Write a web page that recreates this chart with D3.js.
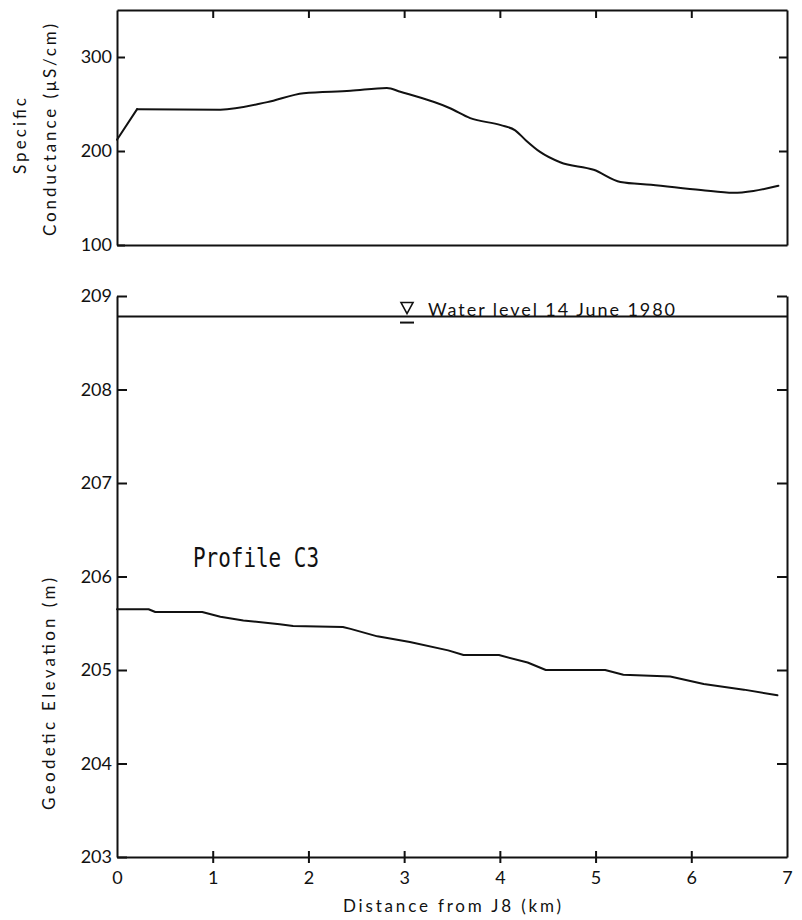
<!DOCTYPE html>
<html>
<head>
<meta charset="utf-8">
<script src="https://cdn.jsdelivr.net/npm/d3@7"></script>
<style>
  html, body { margin: 0; padding: 0; background: #fff; }
  svg { display: block; }
  .axis text { font-family: Lato, "Open Sans", sans-serif; font-size: 18px; fill: #111; }
  .axis path, .axis line { stroke: #111; stroke-width: 2; }
  .title { font-family: Lato, "Open Sans", sans-serif; font-size: 17px; fill: #111; }
</style>
</head>
<body>
<script>
// Distance along the profile (km) and specific conductance (µS/cm)
const condKm  = [0, 0.21, 1.08, 1.57, 1.95, 2.44, 2.82, 2.96, 3.48, 3.69, 4.01, 4.16, 4.27, 4.42, 4.63, 4.98, 5.26, 5.58, 6.10, 6.44, 6.65, 6.91];
const condVal = [212, 244.5, 244, 252, 261.5, 264, 267, 263, 245.5, 235, 227.5, 222, 211.5, 199, 188, 180, 167, 164, 158.5, 155.5, 157.5, 163];

// Distance along the profile (km) and geodetic elevation of the bed (m)
const elevKm  = [0, 0.33, 0.40, 0.89, 1.08, 1.32, 1.70, 1.84, 2.36, 2.44, 2.72, 3.06, 3.46, 3.62, 3.99, 4.29, 4.48, 5.10, 5.29, 5.78, 6.13, 6.55, 6.90];
const elevVal = [205.65, 205.65, 205.62, 205.62, 205.57, 205.53, 205.49, 205.47, 205.46, 205.44, 205.36, 205.30, 205.21, 205.16, 205.16, 205.08, 205.00, 205.00, 204.95, 204.93, 204.85, 204.79, 204.73];

// Water surface on 14 June 1980 (m)
const waterLevel = 208.78;

// Tick values
const distTicks = [0, 1, 2, 3, 4, 5, 6, 7];
const condTicks = [100, 200, 300];
const elevTicks = [203, 204, 205, 206, 207, 208, 209];

const W = 802, H = 920;
const svg = d3.select("body").append("svg").attr("width", W).attr("height", H);

const x = d3.scaleLinear().domain([0, 7]).range([117, 787]);
const yC = d3.scaleLinear().domain([100, 350]).range([245, 10]);
const yE = d3.scaleLinear().domain([203, 209]).range([857, 296]);
const intFmt = d3.format("d");

const lineStyle = g => g.attr("fill", "none").attr("stroke", "#111").attr("stroke-width", 2)
  .attr("stroke-linejoin", "round").attr("stroke-linecap", "round");

// ---------- upper panel: specific conductance ----------
const upper = svg.append("g");

upper.append("g").attr("class", "axis").attr("transform", `translate(0,${yC.range()[1]})`)
  .call(d3.axisTop(x).tickValues(distTicks.slice(1, -1)).tickSize(-8).tickSizeOuter(0).tickFormat(""));
upper.append("g").attr("class", "axis").attr("transform", `translate(0,${yC.range()[0]})`)
  .call(d3.axisBottom(x).tickValues([]).tickSizeOuter(0));
upper.append("g").attr("class", "axis").attr("transform", `translate(${x.range()[0]},0)`)
  .call(d3.axisLeft(yC).tickValues(condTicks).tickSize(-8).tickSizeOuter(0).tickPadding(5).tickFormat(intFmt));
upper.append("g").attr("class", "axis").attr("transform", `translate(${x.range()[1]},0)`)
  .call(d3.axisRight(yC).tickValues(condTicks.slice(1)).tickSize(-8).tickSizeOuter(0).tickFormat(""));

// the first reach rises in a straight line, the rest of the trace is smooth
const condPts = d3.zip(condKm, condVal);
const condRamp = d3.line().x(d => x(d[0])).y(d => yC(d[1]));
const condLine = d3.line().x(d => x(d[0])).y(d => yC(d[1])).curve(d3.curveMonotoneX);
upper.append("path").datum(condPts.slice(0, 2)).call(lineStyle).attr("d", condRamp);
upper.append("path").datum(condPts.slice(1)).call(lineStyle).attr("d", condLine);

upper.append("text").attr("class", "title")
  .attr("transform", `translate(26,136) rotate(-90)`).attr("text-anchor", "middle")
  .attr("textLength", 76).attr("lengthAdjust", "spacing").text("Specific");
upper.append("text").attr("class", "title")
  .attr("transform", `translate(56,130) rotate(-90)`).attr("text-anchor", "middle")
  .attr("textLength", 212).attr("lengthAdjust", "spacing").text("Conductance (\u03BCS/cm)");

// ---------- lower panel: geodetic elevation ----------
const lower = svg.append("g");

const xAx = lower.append("g").attr("class", "axis").attr("transform", `translate(0,${yE.range()[0]})`)
  .call(d3.axisBottom(x).tickValues(distTicks).tickSize(6).tickSizeOuter(0).tickPadding(8).tickFormat(intFmt));
xAx.selectAll(".tick line").attr("y1", -6).attr("y2", 6)
  .filter(d => d === 0 || d === 7).remove();

lower.append("g").attr("class", "axis").attr("transform", `translate(${x.range()[0]},0)`)
  .call(d3.axisLeft(yE).tickValues(elevTicks).tickSize(-10).tickSizeOuter(0).tickPadding(5).tickFormat(intFmt));
lower.append("g").attr("class", "axis").attr("transform", `translate(${x.range()[1]},0)`)
  .call(d3.axisRight(yE).tickValues(elevTicks.slice(1)).tickSize(-10).tickSizeOuter(0).tickFormat(""));

// water surface
const wy = yE(waterLevel);
lower.append("line").attr("x1", x(0)).attr("x2", x(7)).attr("y1", wy).attr("y2", wy)
  .attr("stroke", "#111").attr("stroke-width", 2);

const triX = x(3.03), triY = wy - 3;
lower.append("path")
  .attr("d", `M${triX - 6},${triY - 11}L${triX + 6},${triY - 11}L${triX},${triY}Z`)
  .attr("fill", "none").attr("stroke", "#111").attr("stroke-width", 1.6).attr("stroke-linejoin", "miter");
lower.append("line").attr("x1", triX - 7).attr("x2", triX + 7)
  .attr("y1", wy + 6).attr("y2", wy + 6)
  .attr("stroke", "#111").attr("stroke-width", 2);
lower.append("text").attr("class", "title").attr("x", 428).attr("y", wy - 1)
  .attr("textLength", 247).attr("lengthAdjust", "spacing").style("font-size", "18px")
  .text("Water level 14 June 1980");

const elevLine = d3.line().x(d => x(d[0])).y(d => yE(d[1]));
lower.append("path").datum(d3.zip(elevKm, elevVal)).call(lineStyle).attr("d", elevLine);

lower.append("text").attr("x", 193).attr("y", 567)
  .style("font-family", "'DejaVu Sans Mono', 'Liberation Mono', monospace").style("font-size", "27px")
  .attr("textLength", 126).attr("lengthAdjust", "spacingAndGlyphs")
  .attr("fill", "#111").text("Profile C3");

lower.append("text").attr("class", "title")
  .attr("transform", `translate(55,694) rotate(-90)`).attr("text-anchor", "middle")
  .attr("textLength", 232).attr("lengthAdjust", "spacing").text("Geodetic Elevation (m)");

lower.append("text").attr("class", "title").attr("x", 452).attr("y", 912).attr("text-anchor", "middle")
  .attr("textLength", 218).attr("lengthAdjust", "spacing").text("Distance from J8 (km)");
</script>
</body>
</html>
